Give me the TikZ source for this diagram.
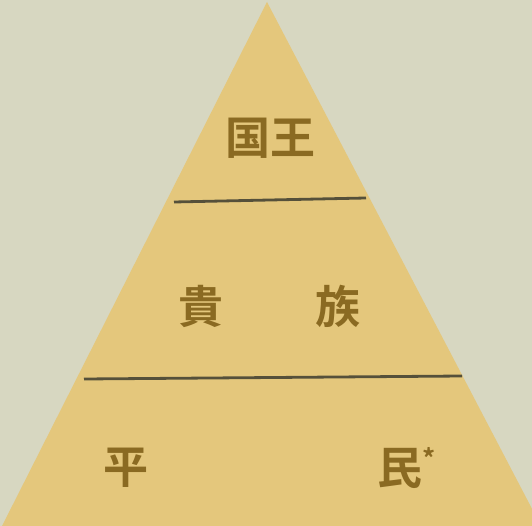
\documentclass[tikz,border=0pt]{standalone}
\usepackage{fontspec}
\newfontfamily\cjk{Noto Sans CJK JP Bold}
\definecolor{paper}{HTML}{D7D7C1}
\definecolor{tri}{HTML}{E4C77C}
\definecolor{ink}{HTML}{8A6A22}
\definecolor{rule}{HTML}{55503A}
\tikzset{
  lbl/.style={font=\cjk\fontsize{45}{45}\selectfont, text=ink, inner sep=0pt, anchor=center},
  tierline/.style={draw=rule, line width=2.8pt},
}
\begin{document}
\begin{tikzpicture}[x=1pt,y=-1pt]
\fill[paper] (0,0) rectangle (532,526);
\useasboundingbox (0,0) rectangle (532,526);
\fill[tri] (267,2) -- (541,526) -- (2,526) -- cycle;
\coordinate (l1a) at (174,202);
\coordinate (l1b) at (366,198);
\coordinate (l2a) at (84,379);
\coordinate (l2b) at (462,376);
\draw[tierline] (l1a) -- (l1b);
\draw[tierline] (l2a) -- (l2b);
\node[lbl] (king) at (270,138) {国王};
\node[lbl] (ki) at (201,306) {貴};
\node[lbl] (zoku) at (338,306) {族};
\node[lbl] (hei) at (126,468) {平};
\node[lbl] (min) at (400,468) {民};
\node[font=\cjk\fontsize{26}{26}\selectfont, text=ink, inner sep=0pt] (ast) at (429,458) {*};
\end{tikzpicture}
\end{document}
